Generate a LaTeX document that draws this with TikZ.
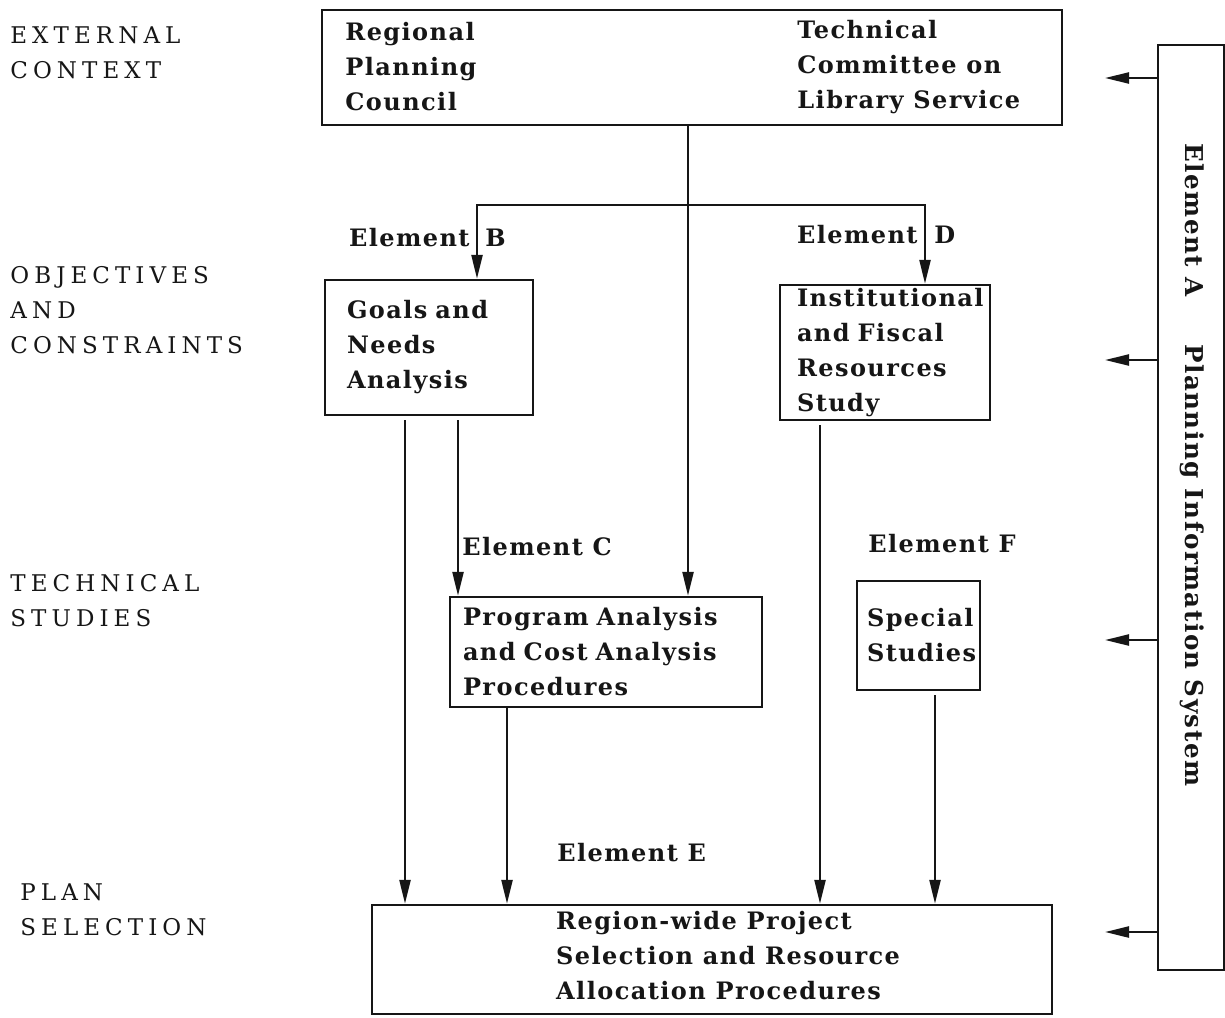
\documentclass[tikz,border=0pt]{standalone}
\usepackage{fontspec}
\usepackage{xcolor}
\usepackage{tikz}
\usetikzlibrary{arrows.meta,positioning,calc}
\definecolor{ink}{RGB}{22,22,22}
\newfontfamily\boxfont[LetterSpace=6]{DejaVu Serif}
\newfontfamily\stagefont[LetterSpace=22]{DejaVu Serif}
\newcommand{\bx}{\boxfont\bfseries\fontsize{12}{17.5}\selectfont}
\newcommand{\stg}{\stagefont\fontsize{11.5}{17.5}\selectfont}

\begin{document}
\begin{tikzpicture}[x=0.5pt,y=-0.5pt,
    box/.style={draw=ink,line width=1.2pt,inner ysep=0pt,align=left,font=\bx,text=ink},
    arr/.style={draw=ink,line width=1.2pt,-{Triangle[length=12pt,width=5.5pt]}},
    stage/.style={anchor=north west,inner sep=0pt,align=left,font=\stg,text=ink},
    lbl/.style={inner sep=0pt,font=\bx,text=ink}]
  \useasboundingbox (0,0) rectangle (1225,1017);

  % stages on the left
  \node[stage] (ctx) at (10,26) {EXTERNAL\\CONTEXT};
  \node[stage] (obj) at (10,266) {OBJECTIVES\\AND\\CONSTRAINTS};
  \node[stage] (tech) at (10,574) {TECHNICAL\\STUDIES};
  \node[stage] (sel) at (20,883) {PLAN\\SELECTION};

  % boxes
  \node[box,minimum width=370pt,minimum height=57.5pt] (ext) at (692,67.5) {};
  \node[lbl,anchor=north west,align=left] (rpc) at (345,22) {Regional\\Planning\\Council};
  \node[lbl,anchor=north west,align=left] (tcls) at (797,20) {Technical\\Committee on\\Library Service};
  \node[box,inner xsep=11pt,text width=82pt,minimum height=67.5pt] (goals) at (429,347.5) {Goals and\\Needs\\Analysis};
  \node[box,inner xsep=8.5pt,text width=88pt,minimum height=67.5pt] (inst) at (885,352.5) {Institutional\\and Fiscal\\Resources\\Study};
  \node[box,inner xsep=6.5pt,text width=143pt,minimum height=55pt] (prog) at (606,652) {Program Analysis\\and Cost Analysis\\Procedures};
  \node[box,inner xsep=5pt,text width=51.5pt,minimum height=54.5pt] (spec) at (918.5,635.5) {Special\\Studies};
  \node[box,minimum width=340pt,minimum height=54.5pt] (plan) at (712,959.5) {};
  \node[lbl,anchor=west,align=left] (plantxt) at ($(plan.west)+(185,-4)$) {Region-wide Project\\Selection and Resource\\Allocation Procedures};
  \node[box,minimum width=33pt,minimum height=462.5pt] (pis) at (1191,507.5) {};
  \node[lbl,rotate=-90,font=\boxfont\bfseries\fontsize{12.3}{15}\selectfont] (eltA) at (1192,465) {Element A\hspace{24pt}Planning Information System};

  % element labels
  \node[lbl,anchor=east] (elB) at (470,238) {Element};
  \node[lbl,anchor=west] (elBx) at (485,238) {B};
  \node[lbl,anchor=east] (elD) at (918,235) {Element};
  \node[lbl,anchor=west] (elDx) at (934,235) {D};
  \node[lbl,anchor=west] (elC) at (462,547) {Element C};
  \node[lbl,anchor=west] (elF) at (868,544) {Element F};
  \node[lbl,anchor=west] (elE) at (557,853) {Element E};

  % columns of the connectors
  \coordinate (trunk) at (688,205);
  \coordinate (colB) at (477,0);
  \coordinate (colD) at (925,0);
  \coordinate (colG) at (405,0);
  \coordinate (colC) at (458,0);
  \coordinate (colP) at (507,0);
  \coordinate (colI) at (820,0);
  \coordinate (colS) at (935,0);

  \draw[arr] (ext.south -| trunk) -- (prog.north -| trunk);
  \draw[arr] (trunk) -| (goals.north -| colB);
  \draw[arr] (trunk) -| (inst.north -| colD);
  \draw[arr,shorten <=2pt] (goals.south -| colG) -- (plan.north -| colG);
  \draw[arr,shorten <=2pt] (goals.south -| colC) -- (prog.north -| colC);
  \draw[arr] (prog.south -| colP) -- (plan.north -| colP);
  \draw[arr,shorten <=2pt] (inst.south -| colI) -- (plan.north -| colI);
  \draw[arr,shorten <=2pt] (spec.south -| colS) -- (plan.north -| colS);

  % feeds from the information system
  \foreach \y/\n in {78/ctx,360/obj,640/tech,932/sel}{
    \coordinate (in\n) at (1105,\y);
    \draw[arr] (pis.west |- in\n) -- (in\n);
  }
\end{tikzpicture}
\end{document}
